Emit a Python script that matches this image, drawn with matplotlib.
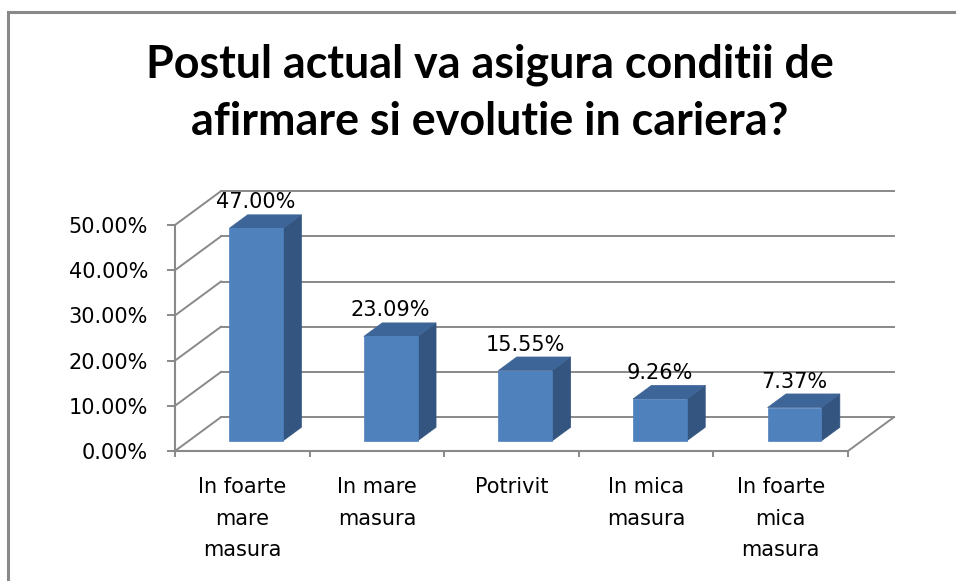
import matplotlib
matplotlib.use("Agg")
import matplotlib.pyplot as plt
from matplotlib.patches import Polygon, Rectangle

# data
categories = ["In foarte\nmare\nmasura", "In mare\nmasura", "Potrivit",
              "In mica\nmasura", "In foarte\nmica\nmasura"]
values = [47.00, 23.09, 15.55, 9.26, 7.37]
y_ticks = [0, 10, 20, 30, 40, 50]
y_tick_labels = ["0.00%", "10.00%", "20.00%", "30.00%", "40.00%", "50.00%"]
title_lines = ["Postul actual va asigura conditii de",
               "afirmare si evolutie in cariera?"]

# colours
front_col = "#4F81BD"
top_col = "#3E6598"
side_col = "#33557F"
grid_col = "#898989"

# fake 3D depth offsets (in data units)
DX = 0.342
DY = 7.5
bar_w = 0.4
d0, d1 = 0.3, 0.7


def proj(x, y, d):
    return (x + d * DX, y + d * DY)


fig = plt.figure(figsize=(9.56, 5.81), dpi=100)
ax = fig.add_axes([175 / 956, 130 / 581, 673 / 956, 226 / 581])
n = len(values)
ax.set_xlim(-0.5, n - 0.5)
ax.set_ylim(0, 50)

# back wall gridlines and side wall diagonals
for t in y_ticks:
    x_a, y_a = proj(-0.5, t, 1)
    x_b, y_b = proj(n - 0.5, t, 1)
    ax.plot([x_a, x_b], [y_a, y_b], color=grid_col, lw=1.4, clip_on=False, zorder=1)
    ax.plot([-0.5, x_a], [t, y_a], color=grid_col, lw=1.4, clip_on=False, zorder=1)

# floor right edge
xr, yr = proj(n - 0.5, 0, 1)
ax.plot([n - 0.5, xr], [0, yr], color=grid_col, lw=1.4, clip_on=False, zorder=1)

# bars
for i, v in enumerate(values):
    x0, x1 = i - bar_w / 2, i + bar_w / 2
    side = [proj(x1, 0, d0), proj(x1, 0, d1), proj(x1, v, d1), proj(x1, v, d0)]
    top = [proj(x0, v, d0), proj(x1, v, d0), proj(x1, v, d1), proj(x0, v, d1)]
    front = [proj(x0, 0, d0), proj(x1, 0, d0), proj(x1, v, d0), proj(x0, v, d0)]
    for pts, c in ((side, side_col), (top, top_col), (front, front_col)):
        ax.add_patch(Polygon(pts, closed=True, facecolor=c, edgecolor=c,
                             lw=0.5, clip_on=False, zorder=3))
    cx, cy = proj(i, v, d0)
    ax.annotate(f"{v:.2f}%", (cx, cy), xytext=(0, 14.4), textcoords="offset points",
                ha="center", va="baseline", fontsize=15, family="DejaVu Sans",
                annotation_clip=False, zorder=4)

# axes styling
for s in ["top", "right"]:
    ax.spines[s].set_visible(False)
for s in ["left", "bottom"]:
    ax.spines[s].set_color(grid_col)
    ax.spines[s].set_linewidth(1.5)
    ax.spines[s].set_zorder(2)
ax.patch.set_alpha(0)

ax.set_yticks(y_ticks)
ax.set_yticklabels(y_tick_labels, fontsize=15, family="DejaVu Sans")
ax.tick_params(axis="y", direction="out", length=5.8, width=1.4, color=grid_col, pad=13.5)

ax.set_xticks([i - 0.5 for i in range(n + 1)])
ax.set_xticklabels([])
ax.tick_params(axis="x", which="major", direction="out", length=4.5, width=1.4, color=grid_col)
ax.set_xticks(range(n), minor=True)
ax.set_xticklabels(categories, minor=True, fontsize=15, family="DejaVu Sans",
                   linespacing=1.7)
ax.tick_params(axis="x", which="minor", length=0, pad=19)

# title
fig.text(490 / 956, 1 - 78 / 581, title_lines[0], ha="center", va="baseline",
         fontsize=32.3, fontweight="bold", family=["Lato", "DejaVu Sans"])
fig.text(490 / 956, 1 - 135 / 581, title_lines[1], ha="center", va="baseline",
         fontsize=32.3, fontweight="bold", family=["Lato", "DejaVu Sans"])

# outer frame
fig.add_artist(Rectangle((8 / 956, -0.1), 1.2, (581 - 12) / 581 + 0.1,
                         transform=fig.transFigure, fill=False,
                         edgecolor=grid_col, lw=2.2))

fig.savefig("out.png", dpi=100)
